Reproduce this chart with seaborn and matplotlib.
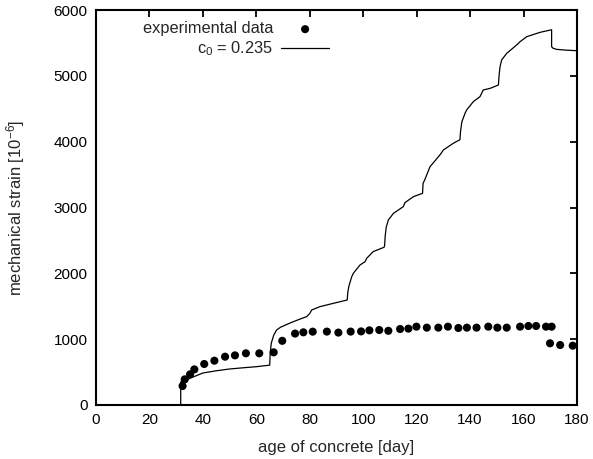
import matplotlib
matplotlib.use("Agg")
import matplotlib.pyplot as plt
import seaborn as sns
import pandas as pd

# experimental data
exp_day = [32.4, 33.2, 35.2, 36.8, 40.5, 44.3, 48.3, 52.0, 56.1, 61.1, 66.5,
           69.7, 74.5, 77.6, 81.1, 86.4, 90.7, 95.3, 99.2, 102.3, 106.0,
           109.4, 113.8, 116.9, 119.9, 123.8, 128.1, 131.7, 135.6, 138.8,
           142.4, 146.8, 150.2, 153.7, 158.7, 161.8, 164.7, 168.4, 170.5,
           169.9, 173.7, 178.4]
exp_strain = [289, 390, 466, 541, 623, 673, 734, 754, 785, 785, 800,
              975, 1085, 1104, 1114, 1115, 1100, 1115, 1118, 1134, 1139,
              1127, 1154, 1160, 1190, 1175, 1175, 1190, 1170, 1175,
              1175, 1190, 1175, 1175, 1190, 1200, 1200, 1190, 1190,
              937, 911, 901]

# model curve c0 = 0.235
mod_day = [31.7, 31.7, 33.0, 34.0, 36.0, 40.0, 45.0, 50.0, 55.0, 60.0, 65.0,
           65.2, 65.6, 66.5, 67.6, 69.0, 72.6, 76.0, 78.8, 80.0, 80.7, 83.8,
           88.8, 94.0, 94.2, 94.6, 95.7, 96.3, 98.8, 100.7, 101.3, 103.7,
           107.8, 108.0, 108.2, 108.6, 109.4, 111.3, 115.0, 115.6, 118.8,
           122.2, 122.4, 123.0, 125.0, 128.7, 130.0, 133.7, 136.2, 136.4,
           136.9, 138.1, 138.7, 141.2, 143.7, 144.3, 144.9, 147.5, 150.6,
           150.8, 151.2, 151.8, 153.7, 157.4, 158.7, 161.2, 166.2, 170.5,
           170.5, 171.0, 172.4, 176.0, 180.0]
mod_strain = [0, 350, 370, 385, 420, 486, 520, 547, 565, 582, 605,
              800, 940, 1060, 1140, 1180, 1245, 1300, 1342, 1390, 1443, 1494,
              1544, 1595, 1700, 1800, 1949, 2000, 2127, 2177, 2228, 2329,
              2396, 2420, 2557, 2700, 2810, 2911, 3013, 3074, 3165,
              3215, 3367, 3418, 3620, 3798, 3874, 3975, 4030, 4150,
              4300, 4431, 4481, 4608, 4684, 4734, 4785, 4810, 4861,
              4988, 5139, 5241, 5342, 5468, 5519, 5595, 5661, 5700,
              5443, 5420, 5402, 5390, 5382]

x_ticks = [0, 20, 40, 60, 80, 100, 120, 140, 160, 180]
y_ticks = [0, 1000, 2000, 3000, 4000, 5000, 6000]

sns.set_style("white")
plt.rcParams['font.family'] = ['Liberation Sans', 'DejaVu Sans']
plt.rcParams['mathtext.fontset'] = 'custom'
plt.rcParams['mathtext.rm'] = 'Liberation Sans'
plt.rcParams['mathtext.it'] = 'Liberation Sans'

fig = plt.figure(figsize=(5.93, 4.59), dpi=100)
ax = fig.add_axes([96/593, 54/459, 481/593, 395/459])

exp_df = pd.DataFrame({"day": exp_day, "strain": exp_strain})
mod_df = pd.DataFrame({"day": mod_day, "strain": mod_strain})

sns.scatterplot(data=exp_df, x="day", y="strain", ax=ax, color="black",
                s=34, edgecolor="none", label="experimental data", zorder=3)
sns.lineplot(data=mod_df, x="day", y="strain", ax=ax, color="black",
             linewidth=0.9, sort=False, estimator=None,
             label="c$_0$ = 0.235", zorder=2)

ax.set_xlim(0, 180)
ax.set_ylim(0, 6000)
ax.set_xticks(x_ticks)
ax.set_yticks(y_ticks)
ax.tick_params(direction="in", length=5, width=1.3, top=True, right=True,
               labelsize=11, pad=6, colors="black")
for s in ax.spines.values():
    s.set_linewidth(1.5)
    s.set_color("black")
ax.set_xlabel("age of concrete [day]", fontsize=12, labelpad=9)
ax.set_ylabel("mechanical strain [10$^{-6}$]", fontsize=12, labelpad=19)

ax.legend(loc="upper right", bbox_to_anchor=(0.508, 1.0), frameon=False,
          markerfirst=False, fontsize=11.8, handlelength=2.9,
          handletextpad=0.5, labelspacing=0.2, borderaxespad=0.3)

fig.savefig("out.png", dpi=100)
